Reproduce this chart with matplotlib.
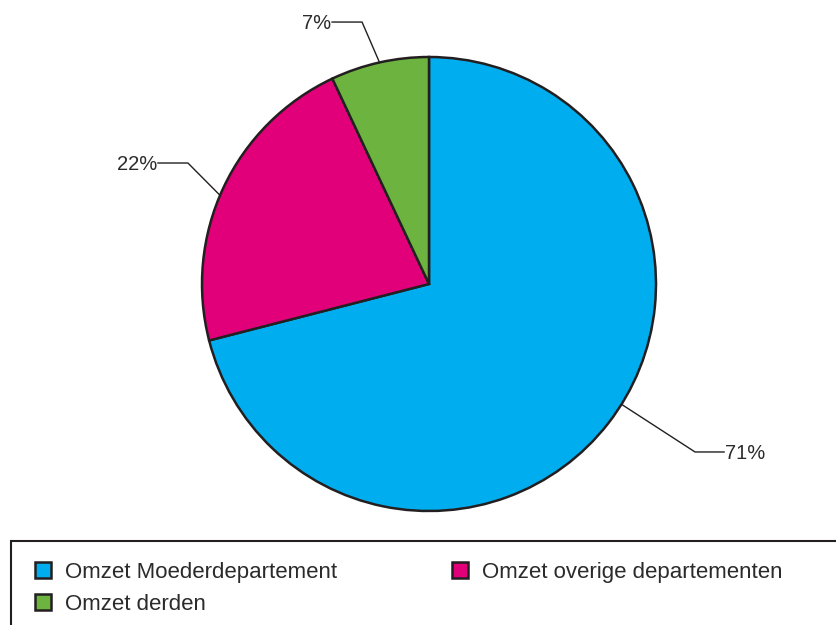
import matplotlib.pyplot as plt
from matplotlib.patches import Rectangle

# Data
labels = ['Omzet Moederdepartement', 'Omzet overige departementen', 'Omzet derden']
values = [71, 22, 7]
colors = ['#00AEEF', '#E2007A', '#6DB33F']
pct_labels = ['71%', '22%', '7%']

edge = '#231F20'
txt = '#2b2b2b'
plt.rcParams['font.family'] = ['Liberation Sans', 'DejaVu Sans']

fig = plt.figure(figsize=(8.36, 6.25), dpi=100)
W, H = 836, 625
R = 227.0  # pie radius in px
cx, cy = 429, 284  # centre in px (from top)
xl, yl = 1.6, 1.3
ax = fig.add_axes([(cx - xl * R) / W, (H - cy - yl * R) / H, 2 * xl * R / W, 2 * yl * R / H])

wedges, _ = ax.pie(values, colors=colors, startangle=90, counterclock=False,
                   wedgeprops=dict(edgecolor=edge, linewidth=1.8))
ax.set_xlim(-xl, xl)
ax.set_ylim(-yl, yl)
ax.axis('off')

# leader lines: (edge point, elbow, end of horizontal), text alignment
leaders = [
    ((0.848, -0.530), (1.172, -0.740), (1.30, -0.740), 'left'),
    ((-0.921, 0.391), (-1.062, 0.533), (-1.194, 0.533), 'right'),
    ((-0.218, 0.976), (-0.295, 1.154), (-0.427, 1.154), 'right'),
]
for lab, (p0, p1, p2, ha) in zip(pct_labels, leaders):
    ax.plot([p0[0], p1[0], p2[0]], [p0[1], p1[1], p2[1]], color=edge, lw=1.0,
            clip_on=False)
    dx = 0.005 if ha == 'left' else -0.005
    ax.text(p2[0] + dx, p2[1] - 0.005, lab, ha=ha, va='center', fontsize=14.5, color=txt)

# legend frame (cut off at the right and bottom)
fig.patches.append(Rectangle((11 / W, -0.05), 1.0, (625 - 541) / H + 0.05,
                             transform=fig.transFigure, fill=False,
                             edgecolor=edge, linewidth=1.5))

order = [0, 2, 1]
leg = fig.legend([wedges[i] for i in order], [labels[i] for i in order],
                 ncol=2, frameon=False, loc='upper left',
                 bbox_to_anchor=(35 / W, 1 - 562 / H), fontsize=16,
                 handlelength=0.7, handleheight=0.7, handletextpad=0.64,
                 columnspacing=5.2, labelspacing=0.48, borderaxespad=0,
                 borderpad=0)
for t in leg.get_texts():
    t.set_color(txt)
for h in leg.legend_handles:
    h.set_linewidth(1.8)

fig.savefig('out.png', dpi=100)
